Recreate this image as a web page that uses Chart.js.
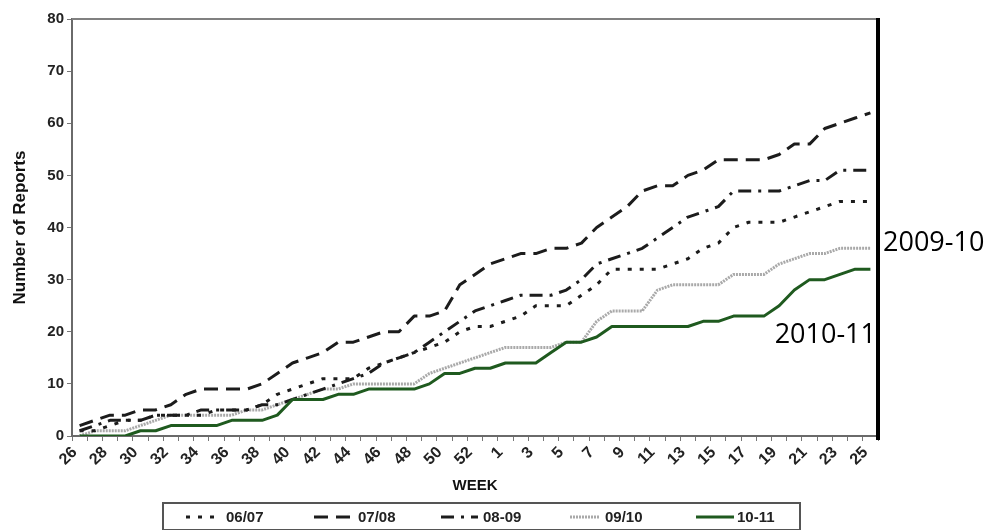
<!DOCTYPE html>
<html>
<head>
<meta charset="utf-8">
<script src="https://cdn.jsdelivr.net/npm/chart.js@4.4.0/dist/chart.umd.min.js"></script>
<style>
html,body{margin:0;padding:0;background:#fff;}
#wrap{width:992px;height:530px;position:relative;}
</style>
</head>
<body>
<div id="wrap"><canvas id="c" width="992" height="530"></canvas></div>
<script>
// Week categories (season runs week 26 -> week 53 -> week 25)
const weeks = ['26','27','28','29','30','31','32','33','34','35','36','37','38','39','40','41','42','43','44','45','46','47','48','49','50','51','52','53','1','2','3','4','5','6','7','8','9','10','11','12','13','14','15','16','17','18','19','20','21','22','23','24','25'];

const s0607 = [1,1,2,3,3,4,4,4,4,5, 5,5,6,8,9,10,11,11,11,13, 14,15,16,17,18,20,21,21,22,23, 25,25,25,27,29,32,32,32,32,33, 34,36,37,40,41,41,41,42,43,44, 45,45,45];
const s0708 = [2,3,4,4,5,5,6,8,9,9, 9,9,10,12,14,15,16,18,18,19, 20,20,23,23,24,29,31,33,34,35, 35,36,36,37,40,42,44,47,48,48, 50,51,53,53,53,53,54,56,56,59, 60,61,62];
const s0809 = [1,2,3,3,3,4,4,4,5,5, 5,5,6,6,7,8,9,10,11,12, 14,15,16,18,20,22,24,25,26,27, 27,27,28,30,33,34,35,36,38,40, 42,43,44,47,47,47,47,48,49,49, 51,51,51];
const s0910 = [0,1,1,1,2,3,4,4,4,4, 4,5,5,6,7,8,9,9,10,10, 10,10,10,12,13,14,15,16,17,17, 17,17,18,18,22,24,24,24,28,29, 29,29,29,31,31,31,33,34,35,35, 36,36,36];
const s1011 = [0,0,0,0,1,1,2,2,2,2, 3,3,3,4,7,7,7,8,8,9, 9,9,9,10,12,12,13,13,14,14, 14,16,18,18,19,21,21,21,21,21, 21,22,22,23,23,23,25,28,30,30, 31,32,32];

const seriesNames = ['06/07','07/08','08-09','09/10','10-11'];
const yTicks = {min:0, max:80, step:10};
const sideLabels = ['2009-10','2010-11'];

const FONT = '"Liberation Sans", Arial, sans-serif';

const base = {pointRadius:0, pointHoverRadius:0, tension:0, fill:false, borderCapStyle:'butt', borderJoinStyle:'round'};
const datasets = [
  Object.assign({label:seriesNames[0], data:s0607, borderColor:'#1c1c1c', borderWidth:3, borderDash:[4,8]}, base),
  Object.assign({label:seriesNames[1], data:s0708, borderColor:'#1c1c1c', borderWidth:3, borderDash:[14,8]}, base),
  Object.assign({label:seriesNames[2], data:s0809, borderColor:'#1c1c1c', borderWidth:3, borderDash:[13,7,3,7]}, base),
  Object.assign({label:seriesNames[3], data:s0910, borderColor:'#a9a9a9', borderWidth:3, borderDash:[2,1]}, base),
  Object.assign({label:seriesNames[4], data:s1011, borderColor:'#1f5a1f', borderWidth:3, borderDash:[], order:-1}, base)
];

const framePlugin = {
  id:'frame',
  afterDatasetsDraw(chart){
    const {ctx, chartArea:a} = chart;
    ctx.save();
    ctx.strokeStyle = '#808080'; ctx.lineWidth = 2;
    ctx.beginPath(); ctx.moveTo(a.left, a.top); ctx.lineTo(a.right, a.top); ctx.stroke();
    ctx.strokeStyle = '#000'; ctx.lineWidth = 4;
    ctx.beginPath(); ctx.moveTo(a.right, a.top - 1); ctx.lineTo(a.right, a.bottom + 4); ctx.stroke();
    ctx.restore();
  }
};

const sideLabelPlugin = {
  id:'sideLabels',
  afterDraw(chart){
    const {ctx, chartArea:a} = chart;
    const y = chart.scales.y;
    ctx.save();
    ctx.fillStyle = '#000';
    ctx.font = '27px "Open Sans", sans-serif';
    ctx.textBaseline = 'alphabetic';
    ctx.textAlign = 'left';
    ctx.fillText(sideLabels[0], a.right + 5, y.getPixelForValue(36) + 3);
    ctx.textAlign = 'right';
    ctx.fillText(sideLabels[1], a.right - 2, y.getPixelForValue(18) + 1);
    ctx.restore();
  }
};

const legendPlugin = {
  id:'boxLegend',
  afterDraw(chart){
    const {ctx} = chart;
    const o = chart.options.plugins.boxLegend;
    ctx.save();
    ctx.strokeStyle = '#555'; ctx.lineWidth = 2;
    ctx.strokeRect(o.box[0], o.box[1], o.box[2], o.box[3]);
    ctx.font = 'bold 15px ' + FONT;
    ctx.textBaseline = 'middle'; ctx.textAlign = 'left';
    chart.data.datasets.forEach((ds, i) => {
      const it = o.items[i];
      ctx.strokeStyle = ds.borderColor;
      ctx.lineWidth = ds.borderWidth;
      ctx.setLineDash(ds.borderDash || []);
      ctx.beginPath(); ctx.moveTo(it[0], o.cy); ctx.lineTo(it[1], o.cy); ctx.stroke();
      ctx.setLineDash([]);
      ctx.fillStyle = '#222';
      ctx.fillText(ds.label, it[2], o.cy + 1);
    });
    ctx.restore();
  }
};

new Chart(document.getElementById('c'), {
  type:'line',
  data:{labels:weeks, datasets:datasets},
  options:{
    responsive:false,
    animation:false,
    devicePixelRatio:1,
    layout:{padding:{left:8, right:114, top:19, bottom:35}},
    plugins:{
      legend:{display:false},
      tooltip:{enabled:false},
      boxLegend:{box:[163,503,637,27], cy:517, items:[[186,216,226],[314,352,358],[441,478,483],[570,600,605],[696,734,737]]}
    },
    scales:{
      x:{
        offset:true,
        grid:{offset:true, drawOnChartArea:false, drawTicks:true, tickLength:5, color:'#777', lineWidth:1},
        border:{display:true, color:'#6a6a6a', width:2},
        ticks:{autoSkip:false, maxRotation:45, minRotation:45, padding:2, labelOffset:-5, color:'#222',
          font:{family:FONT, size:16, weight:'bold'},
          callback:(v,i)=> (i % 2 === 0 ? weeks[i] : '')},
        title:{display:true, text:'WEEK', color:'#111', font:{family:FONT, size:15, weight:'bold'}, padding:{top:0,bottom:0}},
        afterFit(s){ s.height = 59; }
      },
      y:{
        min:yTicks.min, max:yTicks.max,
        grid:{drawOnChartArea:false, drawTicks:true, tickLength:5, color:'#777', lineWidth:1},
        border:{display:true, color:'#6a6a6a', width:2},
        ticks:{stepSize:yTicks.step, padding:3, color:'#222', font:{family:FONT, size:15, weight:'bold'}},
        title:{display:true, text:'Number of Reports', color:'#111', font:{family:FONT, size:17, weight:'bold'}, padding:{top:2,bottom:0}},
        afterFit(s){ s.width = 64; }
      }
    }
  },
  plugins:[framePlugin, sideLabelPlugin, legendPlugin]
});
</script>
</body>
</html>
